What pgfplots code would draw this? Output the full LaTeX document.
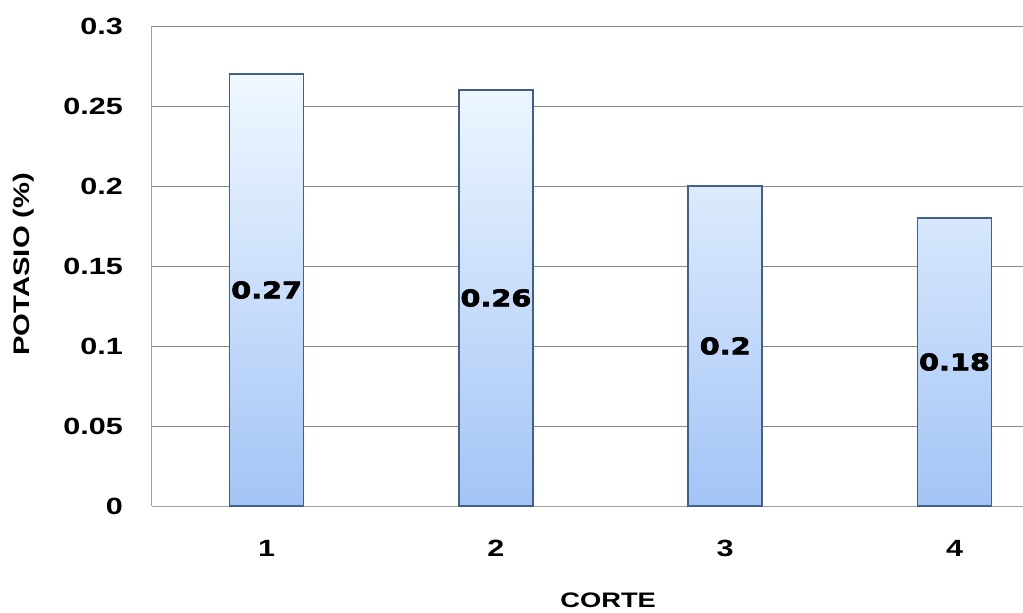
\documentclass[border=0pt]{standalone}
\usepackage{pgfplots}
\pgfplotsset{compat=1.18}
\usepackage{fontspec}
\setmainfont{Liberation Sans}[FakeStretch=1.3]
\newfontfamily\lblfont{DejaVu Sans}[FakeStretch=1.25, FakeBold=3]
\definecolor{barTop}{HTML}{F0F8FF}
\definecolor{barBot}{HTML}{A3C4F6}
\definecolor{barEdge}{HTML}{41618C}
\definecolor{gridgray}{HTML}{8A8A8A}
\definecolor{axisgray}{HTML}{A0A0A0}
\begin{document}
\begin{tikzpicture}
\useasboundingbox (-152pt,-107pt) rectangle (871pt,506pt);
\begin{axis}[
  scale only axis, width=871.3pt, height=480pt,
  at={(0pt,0pt)}, anchor=south west,
  xmin=0.5, xmax=4.3, ymin=0, ymax=0.3,
  xtick={1,2,3,4}, xticklabels={1,2,3,4},
  ytick={0,0.05,0.1,0.15,0.2,0.25,0.3},
  yticklabels={0,0.05,0.1,0.15,0.2,0.25,0.3},
  axis x line*=bottom, axis y line*=left,
  axis line style={color=axisgray, line width=1pt, -},
  major tick length=0pt,
  ymajorgrids, grid style={gridgray, line width=0.9pt},
  tick label style={font=\bfseries\fontsize{23.5}{23.5}\selectfont, black},
  xticklabel style={anchor=center, inner sep=0pt, yshift=-42pt},
  yticklabel style={anchor=east, inner sep=0pt, xshift=-29pt},
  xlabel={CORTE}, ylabel={POTASIO (\%)},
  label style={font=\bfseries\fontsize{21}{21}\selectfont, black},
  xlabel style={at={(rel axis cs:0.5235,0)}, anchor=center, yshift=-94pt},
  ylabel style={at={(rel axis cs:0,0.504)}, anchor=center, yshift=128pt,
    font=\bfseries\fontsize{22.5}{22.5}\selectfont},
  clip=false,
]
\addplot[ybar, bar width=74pt, draw=barEdge, line width=1.6pt, top color=barTop, bottom color=barBot]
  coordinates {(1,0.27) (2,0.26) (3,0.2) (4,0.18)};
\addplot[draw=none, mark=none, nodes near coords, point meta=explicit symbolic,
  every node near coord/.style={anchor=center, inner sep=0pt, font=\lblfont\bfseries\fontsize{23}{23}\selectfont, black}]
  coordinates {(1,0.135)[0.27] (2,0.13)[0.26] (3,0.1)[0.2] (4,0.09)[0.18]};
\end{axis}
\end{tikzpicture}
\end{document}
